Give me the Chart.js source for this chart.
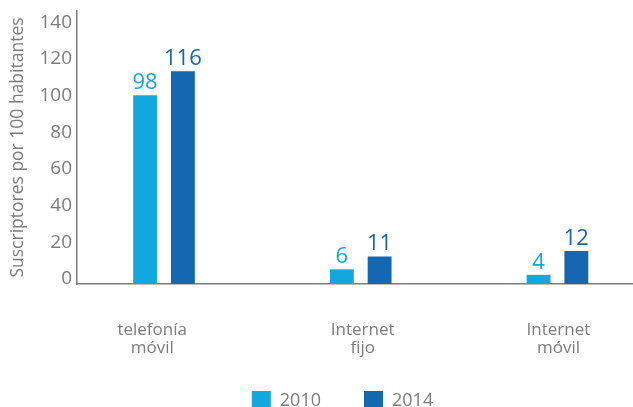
<!DOCTYPE html>
<html>
<head>
<meta charset="utf-8">
<script src="https://cdn.jsdelivr.net/npm/chart.js@4"></script>
<style>
  html, body { margin: 0; padding: 0; background: #fff; overflow: hidden; }
  #wrap { width: 633px; height: 407px; position: relative; }
</style>
</head>
<body>
<div id="wrap"><canvas id="myChart"></canvas></div>
<script>
'use strict';
//--------------------DATA

const categories = [['telefonía', 'móvil'], ['Internet', 'fijo'], ['Internet', 'móvil']];
const seriesNames = ['2010', '2014'];

// bar heights as they are drawn in the picture
const values2010 = [103, 8, 5];
const values2014 = [116, 15, 18];

// numbers printed above the bars
const labels2010 = ['98', '6', '4'];
const labels2014 = ['116', '11', '12'];

const yTicks = [0, 20, 40, 60, 80, 100, 120, 140];

//--------------------STYLE

const lightBlue = '#13a8dc';
const darkBlue = '#1467b0';
const gray = '#7c7c7c';
const fontFamily = '"Open Sans", sans-serif';

// small nudges for the category labels (first one sits left of its bars)
const labelShift = [-0.06, 0.01, 0.005];

//--------------------PLUGINS

// draws the printed number above every bar
const barLabels = {
  id: 'barLabels',
  afterDatasetsDraw(chart) {
    const ctx = chart.ctx;
    const texts = [labels2010, labels2014];
    chart.data.datasets.forEach((ds, d) => {
      chart.getDatasetMeta(d).data.forEach((bar, i) => {
        ctx.save();
        ctx.fillStyle = ds.backgroundColor;
        ctx.font = '500 22px ' + fontFamily;
        ctx.textAlign = 'center';
        ctx.textBaseline = 'alphabetic';
        ctx.fillText(texts[d][i], bar.x, bar.y - 6);
        ctx.restore();
      });
    });
  }
};

// the two-line category labels run past the x axis box, so stop them being clipped
const unclipLabels = {
  id: 'unclipLabels',
  afterLayout(chart) {
    chart.scales.x.bottom = chart.height;
  }
};

//--------------------CHART

function toPoints(values) {
  return values.map((v, i) => ({ x: i, y: v }));
}

const data = {
  datasets: [
    {
      label: seriesNames[0],
      data: toPoints(values2010),
      backgroundColor: lightBlue,
      borderWidth: 0,
      categoryPercentage: 0.386,
      barPercentage: 0.632,
    },
    {
      label: seriesNames[1],
      data: toPoints(values2014),
      backgroundColor: darkBlue,
      borderWidth: 0,
      categoryPercentage: 0.386,
      barPercentage: 0.632,
    },
  ],
};

const config = {
  type: 'bar',
  data: data,
  options: {
    responsive: true,
    maintainAspectRatio: false,
    animation: false,
    layout: {
      padding: { top: 11, right: -52, bottom: -13, left: 0 },
    },
    scales: {
      x: {
        type: 'linear',
        min: -0.4422,
        max: 2.384,
        offset: false,
        grid: { display: false, drawTicks: false },
        border: { display: true, color: gray, width: 1.5 },
        ticks: {
          autoSkip: false,
          maxRotation: 0,
          padding: 37,
          color: gray,
          font: { family: fontFamily, size: 17, lineHeight: 1.06 },
          callback: (value, index) => categories[index],
        },
        afterBuildTicks: (scale) => {
          scale.ticks = categories.map((c, i) => ({ value: i + labelShift[i] }));
        },
        afterFit: (scale) => {
          scale.height = 64;
        },
      },
      y: {
        min: 0,
        max: 148.9,
        grid: { display: false, drawTicks: false },
        border: { display: true, color: gray, width: 1.5 },
        ticks: {
          padding: 5,
          labelOffset: -5,
          color: gray,
          font: { family: fontFamily, size: 19 },
          callback: (value) => value,
        },
        afterBuildTicks: (scale) => {
          scale.ticks = yTicks.map((v) => ({ value: v }));
        },
        afterFit: (scale) => {
          scale.width = 77;
          scale.paddingTop = 0;
          scale.paddingBottom = 0;
        },
        title: {
          display: true,
          text: 'Suscriptores por 100 habitantes',
          color: gray,
          font: { family: fontFamily, size: 17.5 },
          padding: { top: 8, bottom: 0 },
        },
      },
    },
    plugins: {
      legend: {
        position: 'bottom',
        labels: {
          boxWidth: 19,
          boxHeight: 19,
          padding: 43,
          color: gray,
          font: { family: fontFamily, size: 18 },
        },
      },
      tooltip: { enabled: false },
    },
  },
  plugins: [barLabels, unclipLabels],
};

const myChart = new Chart(document.getElementById('myChart'), config);
</script>
</body>
</html>
